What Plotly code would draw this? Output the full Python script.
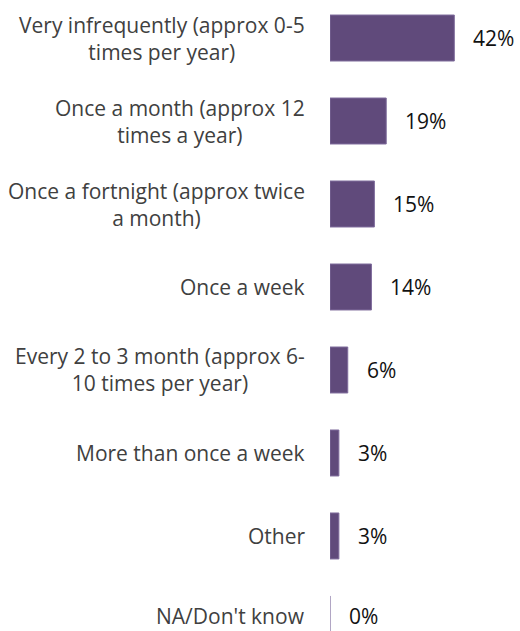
import plotly.graph_objects as go

# Survey responses: how often respondents do the activity
categories = [
    "Very infrequently (approx 0-5<br>times per year)",
    "Once a month (approx 12<br>times a year)",
    "Once a fortnight (approx twice<br>a month)",
    "Once a week",
    "Every 2 to 3 month (approx 6-<br>10 times per year)",
    "More than once a week",
    "Other",
    "NA/Don't know",
]
values = [42, 19, 15, 14, 6, 3, 3, 0]

BAR_COLOR = "#604A7B"
BAR_EDGE = "#7f6c9c"
ZERO_EDGE = "#c4bcd4"
LABEL_FONT = dict(family="Open Sans", size=21, color="#404040")
VALUE_FONT = dict(family="Open Sans", size=21, color="#111111")
BARGAP = 0.446

fig = go.Figure(
    go.Bar(
        x=values,
        y=categories,
        orientation="h",
        marker=dict(color=BAR_COLOR, line=dict(color=BAR_EDGE, width=1)),
        hoverinfo="skip",
    )
)

annotations = []
shapes = []
half = (1 - BARGAP) / 2
for i, (cat, val) in enumerate(zip(categories, values)):
    # bottom row sits against the page edge: lift its text slightly
    lift = 3 if i == len(categories) - 1 else 0
    # category label, centred lines, right-aligned against the bars
    annotations.append(dict(
        x=0, y=cat, xref="x", yref="y", text=cat,
        xanchor="right", yanchor="middle", align="center",
        xshift=-24, yshift=lift, borderpad=0, showarrow=False,
        font=LABEL_FONT,
    ))
    # value label to the right of each bar
    annotations.append(dict(
        x=val, y=cat, xref="x", yref="y", text=f"{val}%",
        xanchor="left", yanchor="middle", xshift=18, yshift=lift,
        borderpad=0, showarrow=False, font=VALUE_FONT,
    ))
    # a zero-length bar still shows its outline as a hairline
    if val == 0:
        shapes.append(dict(
            type="line", xref="x", yref="y",
            x0=val, x1=val, y0=i - half, y1=i + half,
            line=dict(color=ZERO_EDGE, width=1),
        ))

fig.update_layout(
    width=520,
    height=631,
    margin=dict(l=330, r=0, t=0, b=0),
    paper_bgcolor="white",
    plot_bgcolor="white",
    bargap=BARGAP,
    showlegend=False,
    annotations=annotations,
    shapes=shapes,
    xaxis=dict(range=[0, 64.2], visible=False, fixedrange=True),
    yaxis=dict(
        type="category",
        categoryorder="array",
        categoryarray=categories,
        range=[7.145, -0.458],
        showticklabels=False,
        showgrid=False,
        zeroline=False,
        showline=False,
        ticks="",
        fixedrange=True,
    ),
)

fig.write_html("out.html")
